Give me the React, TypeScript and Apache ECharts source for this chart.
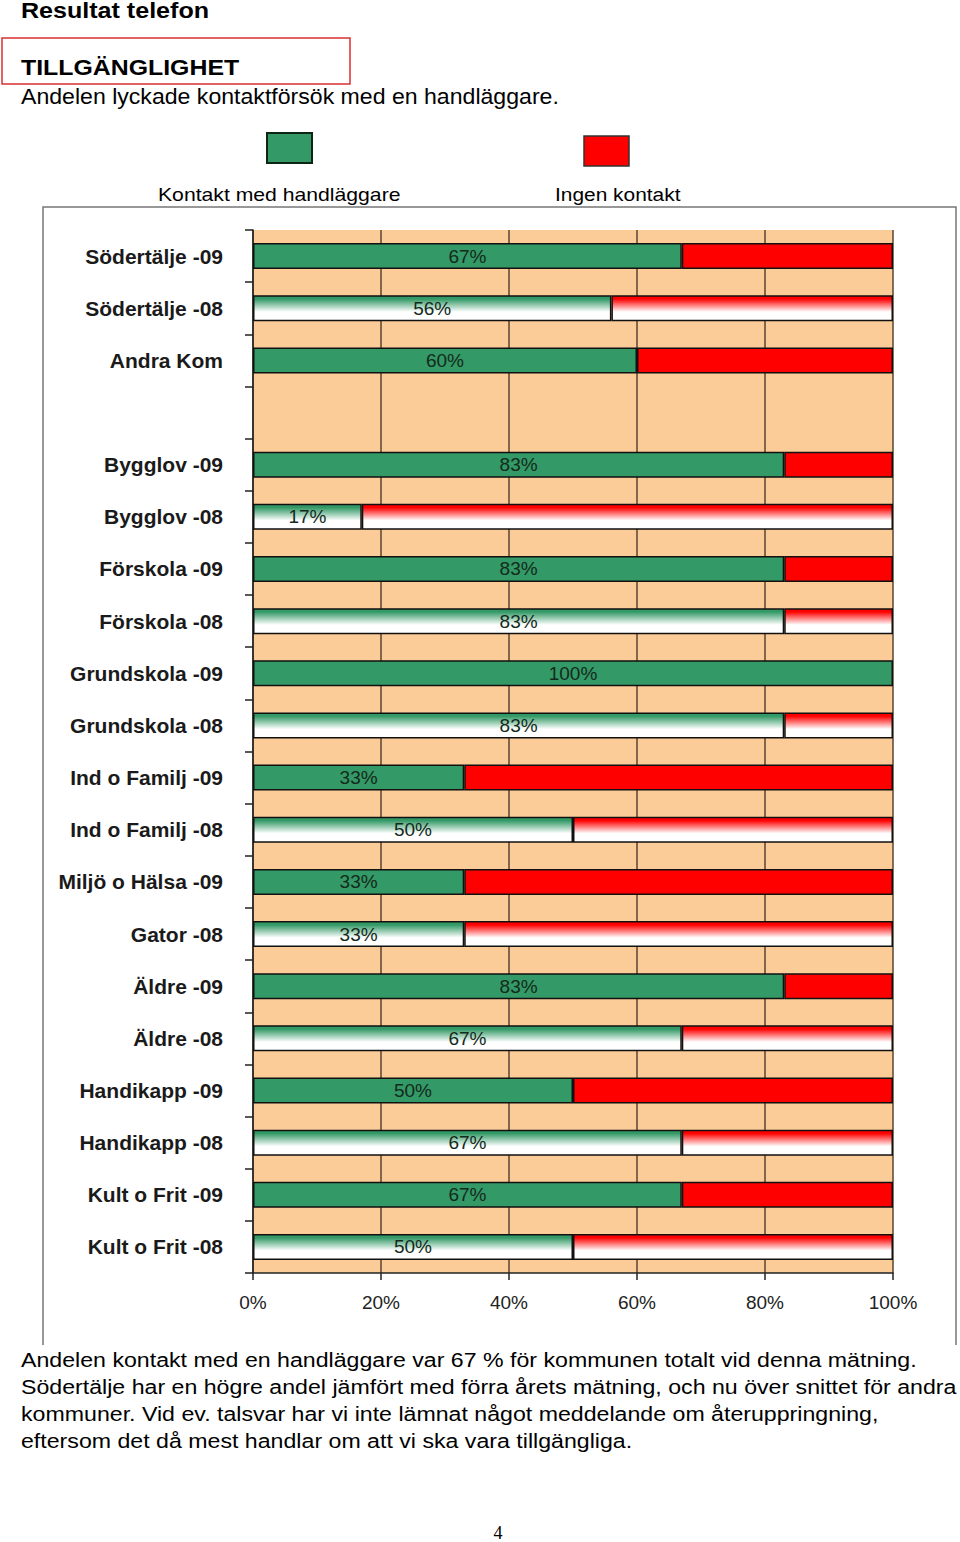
import React, { useEffect, useRef } from "react";
import * as echarts from "echarts";

const categories = [
  "Södertälje -09", "Södertälje -08", "Andra Kom", "",
  "Bygglov -09", "Bygglov -08", "Förskola -09", "Förskola -08",
  "Grundskola -09", "Grundskola -08", "Ind o Familj -09", "Ind o Familj -08",
  "Miljö o Hälsa -09", "Gator -08", "Äldre -09", "Äldre -08",
  "Handikapp -09", "Handikapp -08", "Kult o Frit -09", "Kult o Frit -08",
];
const contact: (number | null)[] = [67, 56, 60, null, 83, 17, 83, 83, 100, 83, 33, 50, 33, 33, 83, 67, 50, 67, 67, 50];
const xTicks = [0, 20, 40, 60, 80, 100];

const paragraph = [
  "Andelen kontakt med en handläggare var 67 % för kommunen totalt vid denna mätning.",
  "Södertälje har en högre andel jämfört med förra årets mätning, och nu över snittet för andra",
  "kommuner. Vid ev. talsvar har vi inte lämnat något meddelande om återuppringning,",
  "eftersom det då mest handlar om att vi ska vara tillgängliga.",
];

const GREEN = "#339966";
const RED = "#ff0000";
const FONT = "'Liberation Sans', Arial, sans-serif";

function grad(c: string) {
  return new echarts.graphic.LinearGradient(0, 0, 0, 1, [
    { offset: 0, color: c },
    { offset: 0.12, color: c },
    { offset: 0.65, color: "#ffffff" },
    { offset: 1, color: "#ffffff" },
  ]);
}

function txt(text: string, x: number, y: number, size: number, opts: any = {}) {
  return {
    type: "text",
    x,
    y,
    scaleX: opts.scaleX || 1,
    style: {
      text,
      font: `${opts.bold ? "bold " : ""}${size}px ${opts.family || FONT}`,
      fill: opts.fill || "#000",
      align: opts.align || "left",
      textAlign: opts.align || "left",
      verticalAlign: "middle",
      textVerticalAlign: "middle",
    },
  };
}

export default function App() {
  const ref = useRef<HTMLDivElement>(null);
  useEffect(() => {
    if (!ref.current) return;
    const chart = echarts.init(ref.current, null, { renderer: "svg" });
    const isOld = (c: string) => c.endsWith("-08");
    const greenData = contact.map((v, i) =>
      v == null ? "-" : { value: v, itemStyle: { color: isOld(categories[i]) ? grad(GREEN) : GREEN } }
    );
    const redData = contact.map((v, i) =>
      v == null || v === 100 ? "-" : { value: 100 - v, itemStyle: { color: isOld(categories[i]) ? grad(RED) : RED } }
    );
    const graphics: any[] = [
      txt("Resultat telefon", 21, 11, 22, { bold: true, scaleX: 1.14 }),
      { type: "rect", shape: { x: 2, y: 38, width: 348, height: 46 }, style: { fill: "none", stroke: "#d83030", lineWidth: 1.5 } },
      txt("TILLGÄNGLIGHET", 21, 68, 22, { bold: true, scaleX: 1.13 }),
      txt("Andelen lyckade kontaktförsök med en handläggare.", 21, 97, 22, { scaleX: 1.05 }),
      { type: "rect", shape: { x: 267, y: 133, width: 45, height: 30 }, style: { fill: GREEN, stroke: "#0d2614", lineWidth: 2 } },
      { type: "rect", shape: { x: 584, y: 136, width: 45, height: 30 }, style: { fill: RED, stroke: "#333", lineWidth: 1.5 } },
      txt("Kontakt med handläggare", 158, 194, 19, { scaleX: 1.115 }),
      txt("Ingen kontakt", 555, 194, 19, { scaleX: 1.1 }),
      { type: "polyline", shape: { points: [[43, 1345], [43, 207], [956, 207], [956, 1345]] }, style: { fill: "none", stroke: "#777", lineWidth: 1.5 } },
      txt("4", 498, 1533, 18, { align: "center", family: "'Liberation Serif', 'DejaVu Serif', serif" }),
    ];
    paragraph.forEach((line, i) => graphics.push(txt(line, 21, 1360 + i * 27, 21, { scaleX: 1.103 })));

    chart.setOption({
      animation: false,
      backgroundColor: "#ffffff",
      grid: {
        left: 253,
        top: 230,
        width: 640,
        height: 1043,
        show: true,
        backgroundColor: "#fbcb98",
        borderWidth: 0,
      },
      xAxis: {
        type: "value",
        min: 0,
        max: 100,
        interval: 20,
        axisLine: { show: true, lineStyle: { color: "#222", width: 1.5 } },
        axisTick: { show: true, length: 7, lineStyle: { color: "#222", width: 1.5 } },
        splitLine: { show: true, lineStyle: { color: "#5a4630", width: 1.5 } },
        axisLabel: {
          formatter: (v: number) => (xTicks.includes(v) ? `${v}%` : ""),
          fontSize: 19,
          fontFamily: FONT,
          color: "#222",
          margin: 20,
        },
      },
      yAxis: {
        type: "category",
        inverse: true,
        data: categories,
        axisLine: { show: true, lineStyle: { color: "#222", width: 1.5 } },
        axisTick: { show: true, length: 8, lineStyle: { color: "#222", width: 1.5 } },
        axisLabel: {
          fontSize: 21,
          fontWeight: "bold",
          fontFamily: FONT,
          color: "#1a1a1a",
          margin: 30,
        },
      },
      series: [
        {
          name: "Kontakt med handläggare",
          type: "bar",
          stack: "a",
          barWidth: 26,
          data: greenData,
          itemStyle: { borderColor: "#111", borderWidth: 1.5 },
          label: {
            show: true,
            position: "inside",
            formatter: "{c}%",
            fontSize: 19,
            fontFamily: FONT,
            color: "#142a1c",
          },
        },
        {
          name: "Ingen kontakt",
          type: "bar",
          stack: "a",
          barWidth: 26,
          data: redData,
          itemStyle: { borderColor: "#111", borderWidth: 1.5 },
        },
      ],
      graphic: graphics,
    });
    return () => chart.dispose();
  }, []);
  return <div ref={ref} style={{ position: "absolute", left: 0, top: 0, width: 960, height: 1542 }} />;
}
